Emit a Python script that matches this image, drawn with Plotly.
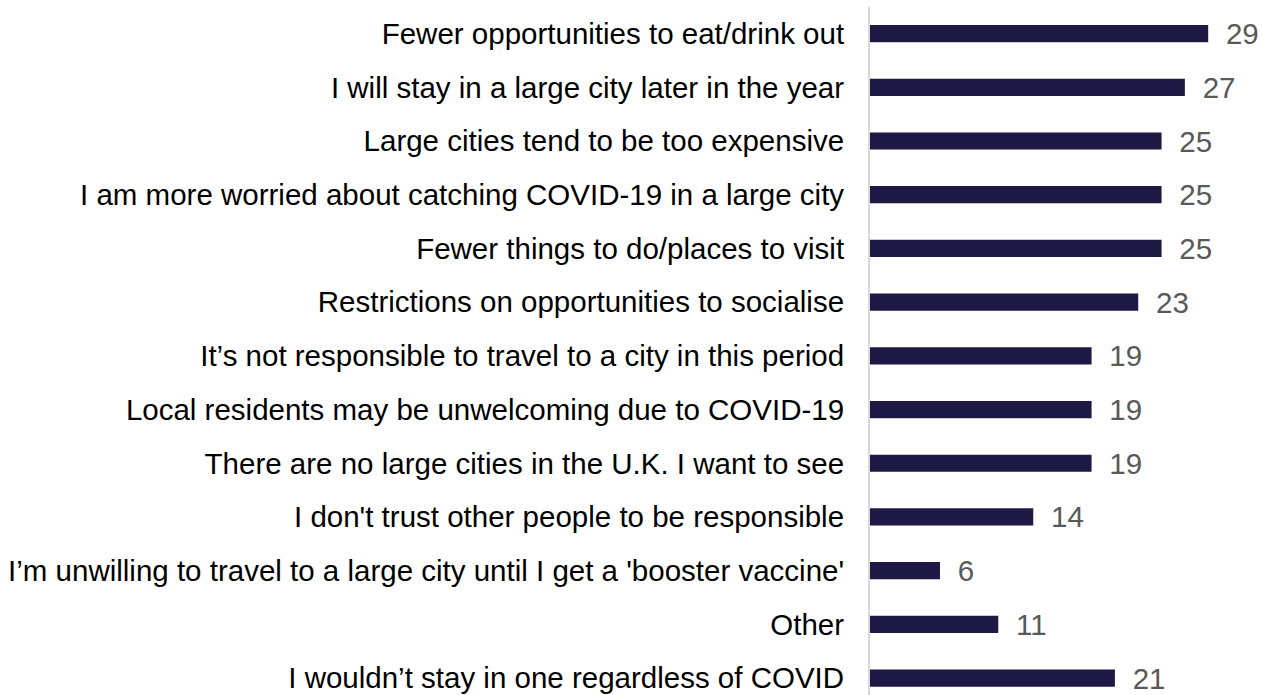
import plotly.graph_objects as go

categories = [
    "Fewer opportunities to eat/drink out",
    "I will stay in a large city later in the year",
    "Large cities tend to be too expensive",
    "I am more worried about catching COVID-19 in a large city",
    "Fewer things to do/places to visit",
    "Restrictions on opportunities to socialise",
    "It\u2019s not responsible to travel to a city in this period",
    "Local residents may be unwelcoming due to COVID-19",
    "There are no large cities in the U.K. I want to see",
    "I don't trust other people to be responsible",
    "I\u2019m unwilling to travel to a large city until I get a 'booster vaccine'",
    "Other",
    "I wouldn\u2019t stay in one regardless of COVID",
]
values = [29, 27, 25, 25, 25, 23, 19, 19, 19, 14, 6, 11, 21]

FONT = "Liberation Sans, Arial, sans-serif"

fig = go.Figure(go.Bar(
    x=values,
    y=categories,
    orientation="h",
    marker=dict(color="#1e1844", line=dict(width=0)),
    width=0.32,
    text=["\u2002" + str(v) for v in values],
    textposition="outside",
    constraintext="none",
    textfont=dict(family=FONT, size=29.5, color="#595959"),
    cliponaxis=False,
    hoverinfo="skip",
))

fig.update_layout(
    width=1263,
    height=695,
    margin=dict(l=870, r=0, t=7, b=0, autoexpand=False),
    plot_bgcolor="white",
    paper_bgcolor="white",
    showlegend=False,
    font=dict(family=FONT, size=29.5, color="#000000"),
    xaxis=dict(range=[0, 33.7], visible=False, showgrid=False, zeroline=False,
               automargin=False),
    yaxis=dict(
        type="category",
        categoryorder="array",
        categoryarray=categories,
        range=[12.315, -0.495],
        automargin=False,
        showgrid=False,
        zeroline=False,
        showline=True,
        linecolor="#d9d9d9",
        linewidth=2,
        ticks="",
        ticklabelstandoff=18,
        tickfont=dict(family=FONT, size=29.5, color="#000000"),
    ),
)

fig.write_html(
    "out.html",
    config={"displayModeBar": False},
    post_script="document.body.style.margin='0';document.body.style.overflow='hidden';",
)
